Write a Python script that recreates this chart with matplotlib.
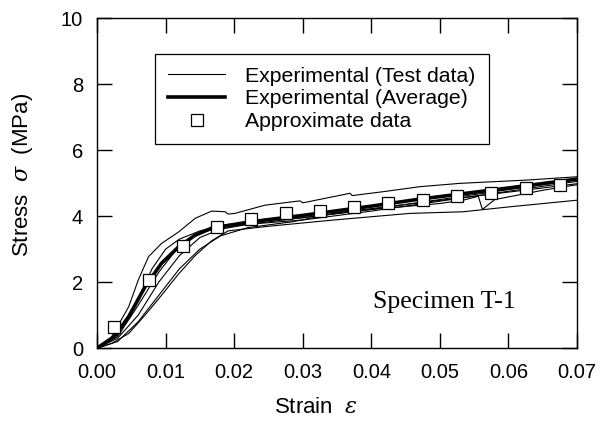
import numpy as np
import matplotlib
matplotlib.use('Agg')
import matplotlib.pyplot as plt

plt.rcParams['font.family'] = ['Liberation Sans', 'DejaVu Sans']
plt.rcParams['mathtext.fontset'] = 'dejavuserif'

# test data curves (strain, stress MPa)
test_a_x = [0, 0.002, 0.0046, 0.006, 0.0075, 0.0094, 0.0119, 0.0143, 0.0167, 0.0187, 0.0191, 0.0201,
            0.0245, 0.0296, 0.0300, 0.0369, 0.0372, 0.0418, 0.0471, 0.0529, 0.0627, 0.07]
test_a_y = [0, 0.3, 1.25, 2.06, 2.77, 3.17, 3.52, 3.93, 4.15, 4.13, 4.06, 4.08,
            4.33, 4.46, 4.40, 4.69, 4.62, 4.74, 4.89, 4.99, 5.09, 5.19]

test_b_x = [0, 0.0021, 0.0046, 0.007, 0.0094, 0.0119, 0.0143, 0.0167, 0.0191, 0.0245, 0.0345, 0.0456,
            0.0534, 0.0602, 0.07]
test_b_y = [0, 0.14, 0.44, 1.0, 1.6, 2.25, 2.8, 3.25, 3.55, 3.68, 3.88, 4.08,
            4.13, 4.28, 4.48]

test_c_x = [0, 0.003, 0.006, 0.009, 0.012, 0.015, 0.018, 0.022, 0.03, 0.04, 0.05, 0.0534,
            0.0556, 0.0562, 0.058, 0.065, 0.07]
test_c_y = [0, 0.3, 1.0, 2.0, 2.8, 3.35, 3.6, 3.75, 3.95, 4.2, 4.38, 4.48,
            4.6, 4.2, 4.5, 4.78, 4.95]

test_d_x = [0, 0.003, 0.006, 0.008, 0.010, 0.012, 0.015, 0.018, 0.022, 0.03, 0.04, 0.05, 0.06, 0.07]
test_d_y = [0, 0.4, 1.5, 2.4, 3.0, 3.3, 3.55, 3.72, 3.82, 3.95, 4.2, 4.5, 4.8, 5.1]

test_e_x = [0, 0.003, 0.006, 0.009, 0.012, 0.015, 0.018, 0.022, 0.0286, 0.035, 0.045, 0.055, 0.065, 0.07]
test_e_y = [0, 0.2, 0.8, 1.6, 2.4, 3.0, 3.4, 3.65, 3.83, 4.1, 4.35, 4.6, 4.85, 4.98]

test_f_x = [0, 0.003, 0.006, 0.009, 0.012, 0.015, 0.018, 0.022, 0.03, 0.04, 0.05, 0.06, 0.07]
test_f_y = [0, 0.35, 1.3, 2.3, 3.1, 3.5, 3.65, 3.75, 3.88, 4.15, 4.45, 4.75, 5.05]

# average curve
avg_x = [0, 0.0025, 0.0046, 0.007, 0.0094, 0.0119, 0.0143, 0.0167, 0.0216, 0.0245, 0.03, 0.04,
         0.0466, 0.055, 0.06, 0.07]
avg_y = [0, 0.35, 0.95, 1.86, 2.57, 3.07, 3.42, 3.63, 3.8, 3.88, 4.02, 4.3,
         4.5, 4.72, 4.85, 5.12]

# approximate data (squares)
approx_x = [0.0025, 0.0075, 0.0125, 0.0175, 0.0225, 0.0275, 0.0325, 0.0375, 0.0425,
            0.0475, 0.0525, 0.0575, 0.0625, 0.0675]
approx_y = [0.64, 2.06, 3.1, 3.68, 3.9, 4.08, 4.15, 4.26, 4.40,
            4.5, 4.6, 4.71, 4.84, 4.94]

tests = [(test_a_x, test_a_y), (test_b_x, test_b_y), (test_c_x, test_c_y),
         (test_d_x, test_d_y), (test_e_x, test_e_y), (test_f_x, test_f_y)]

fig = plt.figure(figsize=(6.07, 4.34), dpi=100)
ax = fig.add_axes([0.16, 0.198, 0.7906, 0.7605])

for i, (tx, ty) in enumerate(tests):
    ax.plot(tx, ty, color='black', lw=0.8,
            label='Experimental (Test data)' if i == 0 else None)
ax.plot(avg_x, avg_y, color='black', lw=2.6, label='Experimental (Average)')
ax.plot(approx_x, approx_y, ls='none', marker='s', ms=8.5, mfc='white', mec='black',
        mew=0.9, label='Approximate data', zorder=5)

ax.set_xlim(0, 0.07)
ax.set_ylim(0, 10)
ax.set_xticks(np.arange(0, 0.0701, 0.01))
ax.set_yticks(np.arange(0, 10.1, 2))
ax.xaxis.set_major_formatter(matplotlib.ticker.FormatStrFormatter('%.2f'))
ax.tick_params(direction='in', length=11, width=1, top=True, right=True, labelsize=14.5)
ax.tick_params(axis='x', pad=11)
ax.tick_params(axis='y', pad=10)
for s in ax.spines.values():
    s.set_linewidth(1)

ax.set_xlabel(r'Strain  $\varepsilon$', fontsize=16)
ax.set_ylabel(r'Stress  $\sigma$  (MPa)', fontsize=16)
ax.xaxis.set_label_coords(0.456, -0.148)
ax.yaxis.set_label_coords(-0.13, 0.524)

leg = ax.legend(loc='upper left', bbox_to_anchor=(0.121, 0.891), borderaxespad=0,
                fontsize=15.3, frameon=True, fancybox=False, framealpha=1,
                edgecolor='black', handlelength=2.7, handletextpad=0.95,
                labelspacing=0.17, borderpad=0.6)
leg.get_frame().set_linewidth(0.9)

ax.text(0.724, 0.139, 'Specimen T-1', transform=ax.transAxes, ha='center', va='center',
        fontsize=18.5, family='Liberation Serif')

plt.savefig('out.png', dpi=100)
